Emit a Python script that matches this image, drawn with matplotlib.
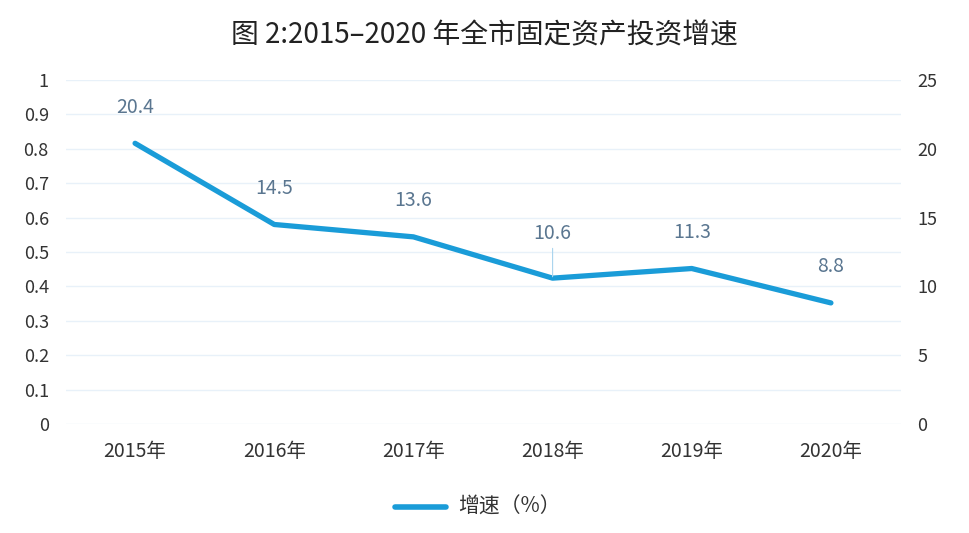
import matplotlib
matplotlib.use("Agg")
import matplotlib.pyplot as plt

plt.rcParams['font.family'] = ['Noto Sans CJK SC', 'DejaVu Sans']

years = ["2015年", "2016年", "2017年", "2018年", "2019年", "2020年"]
growth = [20.4, 14.5, 13.6, 10.6, 11.3, 8.8]
left_ticks = [0, 0.1, 0.2, 0.3, 0.4, 0.5, 0.6, 0.7, 0.8, 0.9, 1]
left_labels = ["0", "0.1", "0.2", "0.3", "0.4", "0.5", "0.6", "0.7", "0.8", "0.9", "1"]
right_ticks = [0, 5, 10, 15, 20, 25]

line_col = "#1a9cd8"
grid_col = "#e8f1f9"
tick_col = "#333333"
label_col = "#5a7690"

fig = plt.figure(figsize=(9.69, 5.33), dpi=100)
ax = fig.add_axes([65.5 / 969, 1 - 424 / 533, 835 / 969, 344 / 533])
ax2 = ax.twinx()

# left axis only carries the empty 0-1 scale and the grid
ax.set_ylim(0, 1)
ax.set_yticks(left_ticks)
ax.set_yticklabels(left_labels)
ax.set_xlim(-0.5, len(years) - 0.5)
ax.set_xticks(range(len(years)))
ax.set_xticklabels(years)
ax.grid(axis="y", color=grid_col, linewidth=1)
ax.set_axisbelow(True)

x = list(range(len(years)))
ax2.plot(x, growth, color=line_col, linewidth=3.8, solid_capstyle="round", solid_joinstyle="round")
ax2.set_ylim(0, 25)
ax2.set_yticks(right_ticks)

for i, v in enumerate(growth):
    if years[i] == "2018年":
        ax2.annotate(f"{v}", xy=(i, v), xytext=(0, 32), textcoords="offset points",
                     ha="center", va="center", fontsize=14, color=label_col,
                     arrowprops=dict(arrowstyle="-", color="#a9d4ee", lw=0.8, shrinkA=1, shrinkB=1))
    else:
        ax2.annotate(f"{v}", xy=(i, v), xytext=(0, 26), textcoords="offset points",
                     ha="center", va="center", fontsize=14, color=label_col)

for a in (ax, ax2):
    for s in a.spines.values():
        s.set_visible(False)
    a.tick_params(length=0, labelsize=13, colors=tick_col)
ax.tick_params(axis="y", pad=12)
ax2.tick_params(axis="y", pad=12)
ax.tick_params(axis="x", pad=12, labelsize=14)

fig.text(0.5, 1 - 35 / 533, "图 2:2015–2020 年全市固定资产投资增速", ha="center", va="center",
         fontsize=20, color="#222222")

# legend
fig.lines.append(plt.Line2D([395 / 969, 446 / 969], [1 - 507 / 533, 1 - 507 / 533],
                            color=line_col, linewidth=4, solid_capstyle="round",
                            transform=fig.transFigure))
fig.text(458 / 969, 1 - 507 / 533, "增速（%）", ha="left", va="center", fontsize=15, color="#333333")

fig.savefig("out.png", dpi=100)
